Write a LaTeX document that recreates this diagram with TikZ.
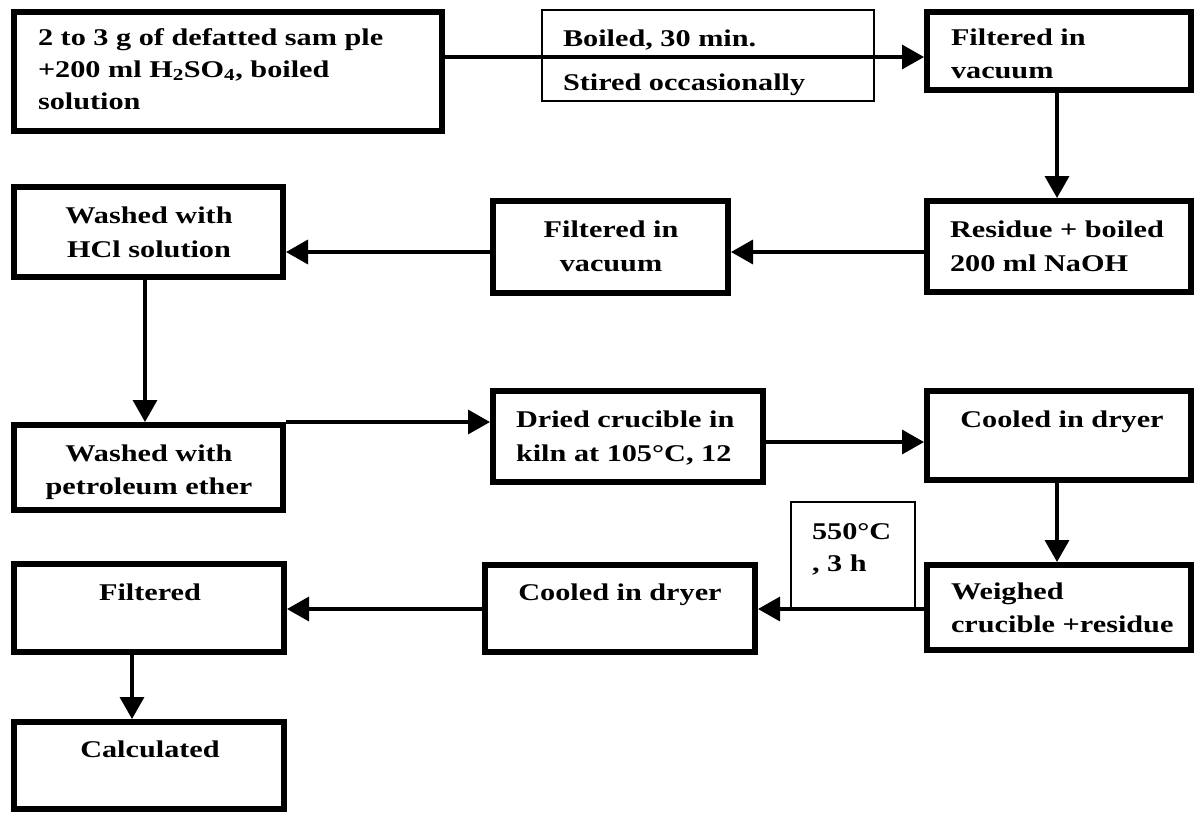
\documentclass[tikz,border=0pt]{standalone}
\usepackage{fontspec}
\setmainfont{Liberation Serif}[FakeStretch=1.26]
\usetikzlibrary{arrows.meta}
\begin{document}
\begin{tikzpicture}[x=1pt,y=-1pt,
  box/.style={draw, line width=6pt, inner sep=0pt, outer sep=3pt},
  thinbox/.style={draw, line width=2pt, inner sep=0pt, outer sep=1pt},
  txt/.style={font=\fontsize{24}{33}\selectfont\bfseries, inner sep=0pt, outer sep=0pt},
  arr/.style={line width=3.5pt, -{Triangle[length=22pt,width=24pt]}}]
\useasboundingbox (0,0) rectangle (1196,812);
% label boxes (thin)
\node[thinbox, minimum width=332pt, minimum height=91pt] (B) at (708,55.5) {};
\node[thinbox, minimum width=124pt, minimum height=107pt] (K) at (853,555.5) {};
% process boxes
\node[box, minimum width=428pt, minimum height=119pt] (A) at (228,71.5) {};
\node[box, minimum width=264pt, minimum height=78pt] (C) at (1059,51) {};
\node[box, minimum width=264pt, minimum height=91pt] (D) at (1059,246.5) {};
\node[box, minimum width=235pt, minimum height=92pt] (E) at (610.5,247) {};
\node[box, minimum width=269pt, minimum height=90pt] (F) at (148.5,232) {};
\node[box, minimum width=269pt, minimum height=85pt] (G) at (148.5,467.5) {};
\node[box, minimum width=270pt, minimum height=91pt] (H) at (628,436.5) {};
\node[box, minimum width=264pt, minimum height=89pt] (I) at (1059,435.5) {};
\node[box, minimum width=264pt, minimum height=85pt] (J) at (1059,607.5) {};
\node[box, minimum width=270pt, minimum height=87pt] (L) at (620,608.5) {};
\node[box, minimum width=270pt, minimum height=88pt] (M) at (149,608) {};
\node[box, minimum width=270pt, minimum height=87pt] (N) at (149,765.5) {};
% texts (anchor base = baseline of the last line)
\node[txt, anchor=base west, align=left, font=\fontsize{24}{32}\selectfont\bfseries] (tA) at (38,109)
  {2 to 3 g of defatted sam ple\\+200 ml H\textsubscript{2}SO\textsubscript{4}, boiled\\solution};
\node[txt, anchor=base west, align=left] (tB) at (563,90) {Boiled, 30 min.\\[11pt]Stired occasionally};
\node[txt, anchor=base west, align=left] (tC) at (951,78) {Filtered in\\vacuum};
\node[txt, anchor=base west, align=left, font=\fontsize{24}{34}\selectfont\bfseries] (tD) at (950,271) {Residue + boiled\\200 ml NaOH};
\node[txt, anchor=base, align=center, font=\fontsize{24}{34}\selectfont\bfseries] (tE) at (611,271) {Filtered in\\vacuum};
\node[txt, anchor=base, align=center, font=\fontsize{24}{34}\selectfont\bfseries] (tF) at (149,257) {Washed with\\HCl solution};
\node[txt, anchor=base, align=center] (tG) at (149,494) {Washed with\\petroleum ether};
\node[txt, anchor=base west, align=left, font=\fontsize{24}{34}\selectfont\bfseries] (tH) at (516,461) {Dried crucible in\\kiln at 105°C, 12};
\node[txt, anchor=base] (tI) at (1062,427) {Cooled in dryer};
\node[txt, anchor=base west, align=left] (tJ) at (951,632) {Weighed\\crucible +residue};
\node[txt, anchor=base west, align=left, font=\fontsize{24}{32}\selectfont\bfseries] (tK) at (812,571) {550°C\\, 3 h};
\node[txt, anchor=base] (tL) at (620,600) {Cooled in dryer};
\node[txt, anchor=base] (tM) at (150,600) {Filtered};
\node[txt, anchor=base] (tN) at (150,757) {Calculated};
% connectors
\draw[arr] (A.east |- 0,57) -- (C.west |- 0,57);
\draw[arr] (C.south -| 1057,0) -- (D.north -| 1057,0);
\draw[arr] (D.west |- 0,252) -- (E.east |- 0,252);
\draw[arr] (E.west |- 0,252) -- (F.east |- 0,252);
\draw[arr] (F.south -| 145,0) -- (G.north -| 145,0);
\draw[arr] (G.north east) -- (H.west |- G.north east);
\draw[arr] (H.east |- 0,442) -- (I.west |- 0,442);
\draw[arr] (I.south -| 1057,0) -- (J.north -| 1057,0);
\draw[arr] (J.west |- 0,609) -- (L.east |- 0,609);
\draw[arr] (L.west |- 0,609) -- (M.east |- 0,609);
\draw[arr] (M.south -| 132,0) -- (N.north -| 132,0);
\end{tikzpicture}
\end{document}
